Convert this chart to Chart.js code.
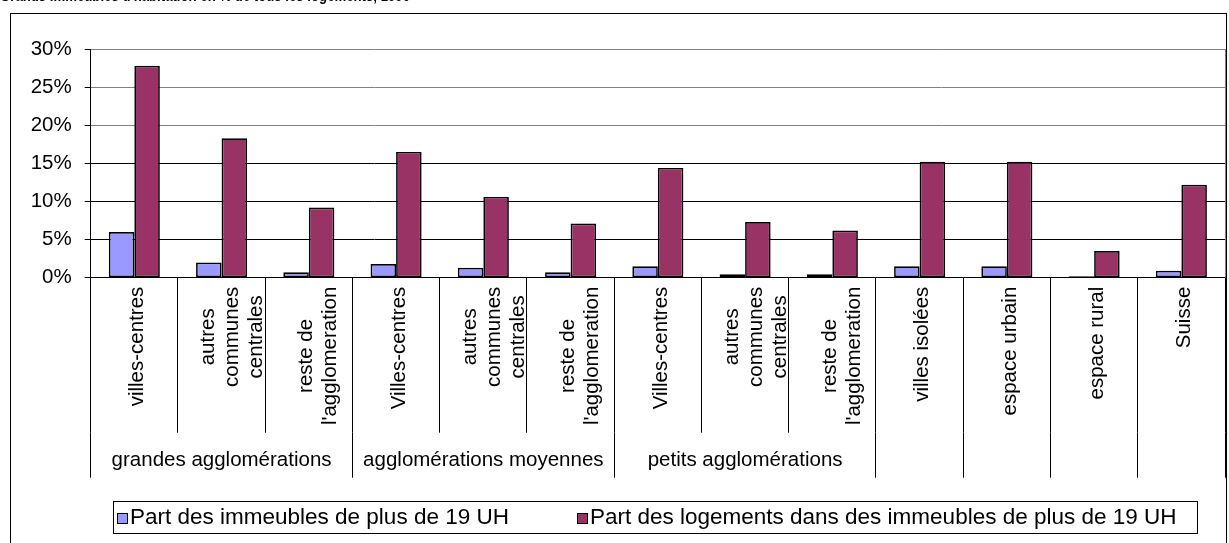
<!DOCTYPE html>
<html>
<head>
<meta charset="utf-8">
<script src="https://cdn.jsdelivr.net/npm/chart.js@4.4.1/dist/chart.umd.min.js"></script>
<style>
  html, body { margin: 0; padding: 0; background: #fff; }
  #wrap { width: 1229px; height: 543px; }
</style>
</head>
<body>
<div id="wrap"><canvas id="chart" width="1229" height="543"></canvas></div>
<script>
// ---- données ----
const categories = [
  ['villes-centres'],
  ['autres', 'communes', 'centrales'],
  ['reste de', "l'agglomeration"],
  ['Villes-centres'],
  ['autres', 'communes', 'centrales'],
  ['reste de', "l'agglomeration"],
  ['Villes-centres'],
  ['autres', 'communes', 'centrales'],
  ['reste de', "l'agglomeration"],
  ['villes isolées'],
  ['espace urbain'],
  ['espace rural'],
  ['Suisse']
];
const groupLabels = ['grandes agglomérations', 'agglomérations moyennes', 'petits agglomérations', '', '', '', ''];
const groupSizes = [3, 3, 3, 1, 1, 1, 1];
const seriesNames = ['Part des immeubles de plus de 19 UH', 'Part des logements dans des immeubles de plus de 19 UH'];
const immeubles = [6.0, 2.0, 0.7, 1.8, 1.3, 0.7, 1.5, 0.45, 0.45, 1.5, 1.5, 0.2, 0.9];
const logements = [27.8, 18.3, 9.2, 16.5, 10.6, 7.1, 14.4, 7.3, 6.2, 15.2, 15.2, 3.5, 12.2];
const yTicks = [0, 5, 10, 15, 20, 25, 30];
const titleText = "Grands immeubles d'habitation en % de tous les logements, 1990";

const FONT = "'Liberation Sans', Arial, sans-serif";
const FS = 20.5;
Chart.defaults.font.family = FONT;
Chart.defaults.font.size = FS;
Chart.defaults.color = '#000';

const colors = ['#9999FF', '#993366'];
const AXIS_H = 200;   // hauteur zone des libellés sous l'axe
const TICK_IN = 155;  // longueur des séparateurs internes

// aligne comme Chart.js le fait pour ses lignes
function al(x) { return Math.round(x - 0.5) + 0.5; }

// ---- plugin: cadre, libellés, groupes, légende ----
const decorPlugin = {
  id: 'decor',
  afterDraw(chart) {
    const { ctx, chartArea } = chart;
    const xs = chart.scales.x;
    ctx.save();

    // cadre extérieur
    ctx.strokeStyle = '#000';
    ctx.lineWidth = 1;
    ctx.strokeRect(10.5, 13.5, 1216, 600);

    // titre (coupé en haut)
    ctx.fillStyle = '#000';
    ctx.font = 'bold 17px ' + FONT;
    ctx.textAlign = 'left';
    ctx.textBaseline = 'alphabetic';
    ctx.fillText(titleText, 0, 1, 410);

    // bord droit de la zone de traçage
    ctx.strokeStyle = '#808080';
    ctx.beginPath();
    ctx.moveTo(al(chartArea.right), chartArea.top);
    ctx.lineTo(al(chartArea.right), chartArea.bottom);
    ctx.stroke();

    // libellés des catégories, tournés
    ctx.fillStyle = '#000';
    ctx.font = FS + 'px ' + FONT;
    ctx.textAlign = 'center';
    ctx.textBaseline = 'middle';
    const lh = 24;
    const shifts = [3, 10, 11];
    const top = chartArea.bottom + 9;
    categories.forEach((lines, i) => {
      const cx = xs.getPixelForTick(i);
      const W = Math.max(...lines.map(l => ctx.measureText(l).width));
      const n = lines.length;
      ctx.save();
      ctx.translate(cx, top);
      ctx.rotate(-Math.PI / 2);
      lines.forEach((l, j) => {
        ctx.fillText(l, -W / 2, (j - (n - 1) / 2) * lh + shifts[n - 1]);
      });
      ctx.restore();
    });

    // séparateurs de groupes prolongés + libellés de groupe
    const half = (xs.getPixelForTick(1) - xs.getPixelForTick(0)) / 2;
    ctx.strokeStyle = '#000';
    let idx = 0;
    const bounds = [0];
    groupSizes.forEach(s => { idx += s; bounds.push(idx); });
    bounds.forEach(b => {
      const x = b < categories.length ? xs.getPixelForTick(b) - half : xs.getPixelForTick(b - 1) + half;
      ctx.beginPath();
      ctx.moveTo(al(x), chartArea.bottom + TICK_IN);
      ctx.lineTo(al(x), chartArea.bottom + AXIS_H);
      ctx.stroke();
    });
    ctx.textBaseline = 'alphabetic';
    groupLabels.forEach((g, k) => {
      if (!g) return;
      const a = bounds[k], z = bounds[k + 1] - 1;
      const cx = (xs.getPixelForTick(a) + xs.getPixelForTick(z)) / 2;
      ctx.fillText(g, cx, chartArea.bottom + 188);
    });

    // légende encadrée
    const lx0 = 113, lx1 = 1197, ly0 = 501, ly1 = 533;
    ctx.strokeStyle = '#000';
    ctx.strokeRect(lx0 + 0.5, ly0 + 0.5, lx1 - lx0, ly1 - ly0);
    const box = 11, gapTxt = 2, gapItem = 68;
    ctx.font = '22.5px ' + FONT;
    const widths = chart.data.datasets.map(d => box + gapTxt + ctx.measureText(d.label).width);
    let x = 117;
    const ym = (ly0 + ly1) / 2 + 1;
    ctx.textAlign = 'left';
    ctx.textBaseline = 'middle';
    chart.data.datasets.forEach((d, k) => {
      ctx.fillStyle = d.backgroundColor;
      ctx.fillRect(Math.round(x), Math.round(ym - box / 2), box, box);
      ctx.strokeStyle = '#000';
      ctx.strokeRect(Math.round(x) + 0.5, Math.round(ym - box / 2) + 0.5, box - 1, box - 1);
      ctx.fillStyle = '#000';
      ctx.fillText(d.label, x + box + gapTxt, ym);
      x += widths[k] + gapItem;
    });

    ctx.restore();
  }
};

const ctx = document.getElementById('chart').getContext('2d');
new Chart(ctx, {
  type: 'bar',
  data: {
    labels: categories,
    datasets: [
      { label: seriesNames[0], data: immeubles, backgroundColor: colors[0], borderColor: '#000', borderWidth: 1.7, borderSkipped: false },
      { label: seriesNames[1], data: logements, backgroundColor: colors[1], borderColor: '#000', borderWidth: 1.7, borderSkipped: false }
    ]
  },
  options: {
    responsive: false,
    animation: false,
    categoryPercentage: 0.585,
    barPercentage: 1,
    layout: { padding: { top: 49, right: 4, left: 0, bottom: 543 - 277.7 - AXIS_H } },
    plugins: { legend: { display: false }, tooltip: { enabled: false } },
    scales: {
      x: {
        offset: true,
        grid: { offset: true, drawOnChartArea: false, tickLength: TICK_IN, color: '#000', lineWidth: 1 },
        border: { color: '#000', width: 1 },
        ticks: { display: false },
        afterFit: s => { s.height = AXIS_H; }
      },
      y: {
        min: 0,
        max: 30,
        afterBuildTicks: s => { s.ticks = yTicks.map(v => ({ value: v })); },
        ticks: { padding: 13, callback: v => v + '%' },
        grid: {
          color: c => (c.tick && c.tick.value >= 20 ? '#808080' : '#000'),
          tickColor: '#000',
          tickLength: 6,
          lineWidth: 1
        },
        border: { color: '#000', width: 1 },
        afterFit: s => { s.width = 90.7; }
      }
    }
  },
  plugins: [decorPlugin]
});
</script>
</body>
</html>
